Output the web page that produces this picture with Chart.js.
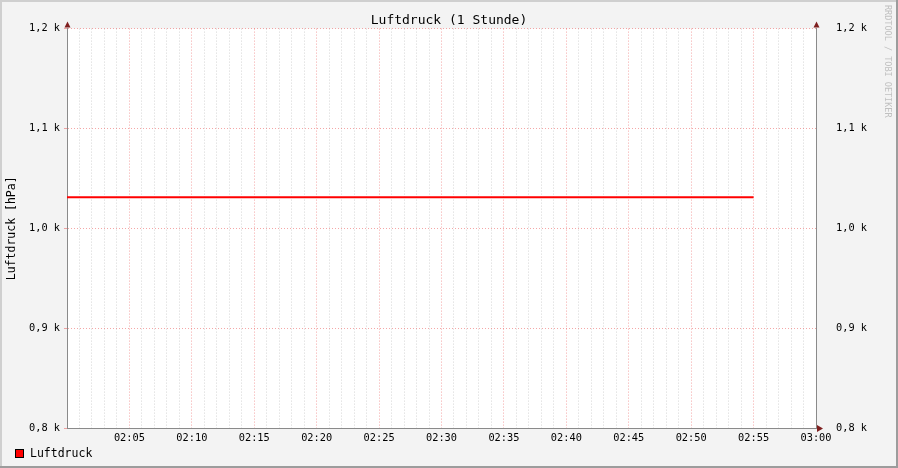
<!DOCTYPE html>
<html>
<head>
<meta charset="utf-8">
<title>Luftdruck (1 Stunde)</title>
<script src="https://cdn.jsdelivr.net/npm/chart.js@4/dist/chart.umd.min.js"></script>
<style>
  html, body { margin: 0; padding: 0; background: #f3f3f3; }
  #wrap { width: 898px; height: 468px; }
</style>
</head>
<body>
<div id="wrap"><canvas id="chart" width="898" height="468"></canvas></div>
<script>
"use strict";

// minutes after 02:00
const minutes = [0, 5, 10, 15, 20, 25, 30, 35, 40, 45, 50, 55];
const pressure = [1031, 1031, 1031, 1031, 1031, 1031, 1031, 1031, 1031, 1031, 1031, 1031];
const timeLabels = ["02:05", "02:10", "02:15", "02:20", "02:25", "02:30",
  "02:35", "02:40", "02:45", "02:50", "02:55", "03:00"];
const pressureTicks = [800, 900, 1000, 1100, 1200];

const MONO = "'DejaVu Sans Mono', monospace";
const AXIS = "#8a8a8a";
const MGRID = "rgba(235, 80, 80, 0.5)";
const GRID = "rgba(150, 150, 150, 0.4)";

const fmtK = v => (v / 1000).toFixed(1).replace(".", ",") + " k";

const rrdLook = {
  id: "rrdLook",
  beforeDraw(chart) {
    const { ctx, chartArea: a, width, height } = chart;
    ctx.save();
    ctx.fillStyle = "#f3f3f3";
    ctx.fillRect(0, 0, width, height);
    // shaded frame
    ctx.fillStyle = "#cfcfcf";
    ctx.fillRect(0, 0, width, 2);
    ctx.fillRect(0, 0, 2, height);
    ctx.fillStyle = "#9c9c9c";
    ctx.fillRect(0, height - 2, width, 2);
    ctx.fillRect(width - 2, 0, 2, height);
    ctx.fillStyle = "#ffffff";
    ctx.fillRect(a.left, a.top, a.right - a.left, a.bottom - a.top);
    ctx.restore();
  },
  afterDraw(chart) {
    const { ctx, chartArea: a } = chart;
    ctx.save();
    // arrows
    ctx.fillStyle = "#7f1f1f";
    const up = x => {
      ctx.beginPath();
      ctx.moveTo(x - 3, a.top - 1);
      ctx.lineTo(x + 3, a.top - 1);
      ctx.lineTo(x, a.top - 7);
      ctx.closePath();
      ctx.fill();
    };
    up(a.left + 0.5);
    up(a.right + 0.5);
    ctx.beginPath();
    ctx.moveTo(a.right + 1, a.bottom - 3);
    ctx.lineTo(a.right + 1, a.bottom + 4);
    ctx.lineTo(a.right + 7, a.bottom + 0.5);
    ctx.closePath();
    ctx.fill();

    // watermark
    ctx.translate(887, 5);
    ctx.rotate(Math.PI / 2);
    ctx.fillStyle = "#c0c0c0";
    ctx.font = "8.5px " + MONO;
    ctx.textBaseline = "middle";
    ctx.fillText("RRDTOOL / TOBI OETIKER", 0, 0);
    ctx.restore();

    // legend
    const ds = chart.data.datasets[0];
    ctx.save();
    ctx.fillStyle = ds.borderColor;
    ctx.fillRect(15, 449, 9, 9);
    ctx.strokeStyle = "#000";
    ctx.lineWidth = 1;
    ctx.strokeRect(15.5, 449.5, 8, 8);
    ctx.fillStyle = "#000";
    ctx.font = "11.5px " + MONO;
    ctx.textBaseline = "middle";
    ctx.fillText(ds.label, 30, 454.5);
    ctx.restore();
  }
};

new Chart(document.getElementById("chart").getContext("2d"), {
  type: "line",
  data: {
    datasets: [{
      label: "Luftdruck",
      data: minutes.map((m, i) => ({ x: m, y: pressure[i] })),
      borderColor: "#ff0000",
      backgroundColor: "#ff0000",
      borderWidth: 2,
      pointRadius: 0,
      tension: 0,
      fill: false
    }]
  },
  options: {
    responsive: false,
    animation: false,
    devicePixelRatio: 1,
    layout: { padding: 0 },
    plugins: {
      legend: { display: false },
      tooltip: { enabled: false },
      title: {
        display: true,
        text: "Luftdruck (1 Stunde)",
        color: "#000",
        font: { family: MONO, size: 13, weight: "normal" },
        padding: { top: 13, bottom: 0 }
      }
    },
    scales: {
      x: {
        type: "linear",
        min: 0,
        max: 60,
        afterFit: s => { s.height = 40; },
        afterBuildTicks: s => {
          s.ticks = [];
          for (let m = 0; m <= 60; m++) s.ticks.push({ value: m });
        },
        ticks: {
          autoSkip: false,
          maxRotation: 0,
          padding: 4,
          color: "#000",
          font: { family: MONO, size: 10.3 },
          callback: v => (v > 0 && v % 5 === 0) ? timeLabels[v / 5 - 1] : ""
        },
        grid: {
          drawTicks: false,
          color: c => (c.tick && c.tick.value % 5 === 0) ? MGRID : GRID
        },
        border: { color: AXIS, width: 1, dash: [1, 2] }
      },
      y: {
        position: "left",
        min: 800,
        max: 1200,
        afterFit: s => { s.width = 67; },
        afterBuildTicks: s => { s.ticks = pressureTicks.map(v => ({ value: v })); },
        ticks: {
          padding: 4,
          color: "#000",
          font: { family: MONO, size: 10.3 },
          callback: fmtK
        },
        title: {
          display: true,
          text: "Luftdruck [hPa]",
          color: "#000",
          font: { family: MONO, size: 11.5 },
          padding: { top: 5, bottom: 0 }
        },
        grid: { color: MGRID, tickLength: 3 },
        border: { color: AXIS, width: 1, dash: [1, 2] }
      },
      y2: {
        position: "right",
        min: 800,
        max: 1200,
        afterFit: s => { s.width = 82; },
        afterBuildTicks: s => { s.ticks = pressureTicks.map(v => ({ value: v })); },
        ticks: {
          padding: 20,
          color: "#000",
          font: { family: MONO, size: 10.3 },
          callback: fmtK
        },
        grid: { display: false, drawTicks: false },
        border: { color: AXIS, width: 1 }
      }
    }
  },
  plugins: [rrdLook]
});
</script>
</body>
</html>
